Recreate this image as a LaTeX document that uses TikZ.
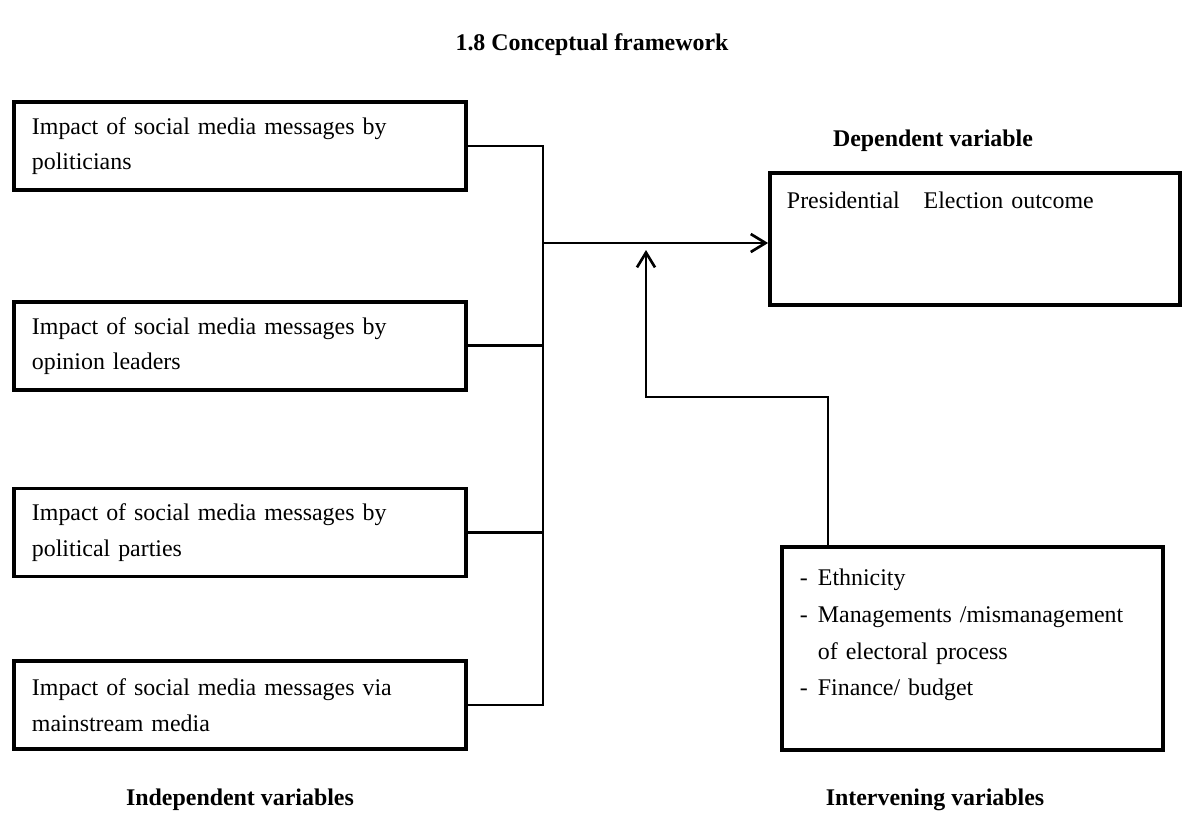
\documentclass[tikz,border=0pt]{standalone}
\usepackage{fontspec}
\setmainfont{Liberation Serif}
\usepackage{tikz}
\usetikzlibrary{arrows.meta, positioning}
\tikzstyle{factor} = [rectangle, draw=black, line width=2.6pt, minimum width=11.3cm, minimum height=2.2cm, inner xsep=0.45cm, text width=10.4cm, align=left, font=\fontsize{17}{25}\selectfont]
\tikzstyle{outcome} = [rectangle, draw=black, line width=2.6pt, inner xsep=0.425cm, inner ysep=0.46cm, text width=9.4cm, align=left, text height=0.42cm, text depth=1.96cm, font=\fontsize{17}{25}\selectfont]
\tikzstyle{intervening} = [rectangle, draw=black, line width=2.6pt, inner xsep=0.45cm, inner ysep=0.335cm, text width=8.625cm, align=left, text height=0.64cm, text depth=3.765cm, font=\fontsize{17}{26}\selectfont]
\tikzstyle{heading} = [font=\bfseries\fontsize{17}{20}\selectfont]
\tikzstyle{link} = [draw, line width=1.9pt]
\tikzstyle{line} = [draw, line width=1.9pt, -{Straight Barb[length=0.37cm, width=0.45cm, line width=1.9pt]}]

\begin{document}
\begin{tikzpicture}[x=0.025cm, y=-0.025cm]
    \useasboundingbox (0,0) rectangle (1183,817);
    % Headings
    \node [heading] (title) at (592,45) {1.8 Conceptual framework};
    \node [heading] (deplab) at (933,141) {Dependent variable};
    \node [heading] (indlab) at (240,800) {Independent variables};
    \node [heading] (intlab) at (935,800) {Intervening variables};

    % Nodes
    \node [factor] (b1) at (240,146) {Impact of social media messages by \\ politicians};
    \node [factor, below=2.7cm of b1] (b2) {Impact of social media messages by \\ opinion leaders};
    \node [factor, below=2.38cm of b2] (b3) {Impact of social media messages by \\ political parties};
    \node [factor, below=2.02cm of b3] (b4) {Impact of social media messages via \\ mainstream media};
    \node [outcome] (dep) at (975,239) {Presidential\ \ \ Election outcome};
    \node [intervening] (inter) at (972.5,648.5) {\begin{tabular}[t]{@{}l@{\hspace{0.25cm}}l@{}}
        - & Ethnicity \\
        - & Managements /mismanagement \\
          & of electoral process \\
        - & Finance/ budget
    \end{tabular}};
    \coordinate (bus) at (543,243);
    \coordinate (elbow) at (646,397);
    \coordinate (tip) at (646,250);

    % Edges
    \path [link] (b1.east) -| (bus);
    \path [link] (b2.east) -| (bus);
    \path [link] (b3.east) -| (bus);
    \path [link] (b4.east) -| (bus);
    \path [line] (bus) -- (bus -| dep.west);
    \path [line] ([xshift=1.2cm]inter.north west) |- (elbow) -- (tip);
\end{tikzpicture}
\end{document}
